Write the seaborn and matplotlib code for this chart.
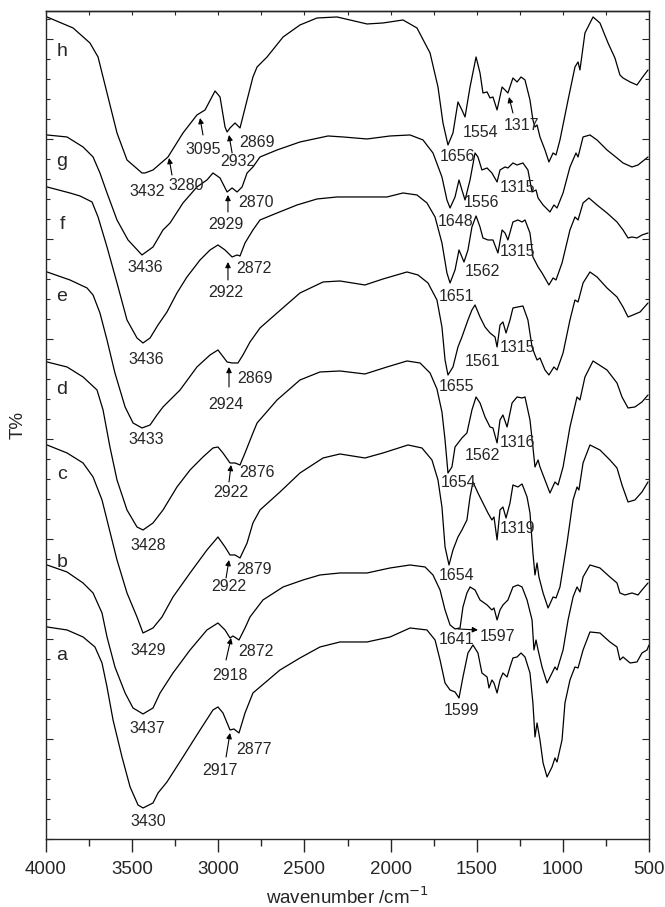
import numpy as np
import pandas as pd
import matplotlib
matplotlib.use('Agg')
import matplotlib.pyplot as plt
import seaborn as sns
from matplotlib.ticker import MultipleLocator

sns.set_style('ticks')
plt.rcParams['font.family'] = ['Liberation Sans', 'DejaVu Sans']

# ---- spectra (wavenumber / cm-1, transmittance in arbitrary offset units) ----
wn_h = [3994,3843,3745,3698,3646,3588,3530,3443,3425,3379,3292,3205,3124,3077,3019,2990,2961,2949,2932,2903,
        2874,2833,2799,2775,2717,2624,2526,2427,2311,2236,2137,2044,1928,1847,1771,1725,1696,1667,1638,1609,
        1586,1568,1539,1504,1481,1464,1440,1423,1406,1382,1353,1336,1319,1290,1266,1243,1220,1191,1174,1162,
        1150,1133,1104,1081,1057,1040,1017,970,930,912,901,872,825,785,738,698,669,651,610,570,541,506]
t_h = [822,811,796,782,746,706,679,666,666,669,682,706,724,729,748,742,712,707,711,716,
       711,739,762,772,782,802,814,821,822,819,815,816,819,811,786,752,716,694,706,737,
       729,722,752,782,766,746,747,741,742,729,752,749,746,761,757,762,759,739,719,712,
       714,702,689,677,686,684,699,739,772,777,769,806,822,816,796,781,764,761,757,754,761,769]

wn_g = [3994,3878,3785,3727,3687,3646,3588,3524,3443,3379,3321,3280,3205,3124,3066,3031,2990,2949,2920,2891,
        2862,2833,2799,2758,2659,2526,2363,2276,2137,2003,1887,1812,1754,1702,1673,1655,1626,1603,1586,1568,
        1539,1510,1493,1470,1440,1412,1382,1365,1336,1319,1290,1266,1232,1203,1179,1156,1144,1115,1075,1052,
        1034,999,959,924,912,883,843,802,744,686,651,599,564,506]
t_g = [704,702,692,682,666,646,619,599,584,592,609,616,636,652,659,666,661,647,651,647,
       652,666,672,682,689,697,703,702,700,703,704,699,686,662,639,631,642,659,649,639,
       659,686,682,669,671,666,657,669,672,671,676,674,676,669,647,649,641,634,627,634,
       631,646,672,686,682,702,704,699,689,681,676,672,674,682]

wn_f = [3994,3861,3803,3756,3733,3698,3646,3588,3530,3472,3437,3396,3350,3298,3240,3182,3106,3048,3002,2961,
        2920,2891,2874,2845,2799,2758,2659,2543,2427,2311,2137,2021,1928,1847,1789,1742,1702,1673,1655,1626,
        1603,1574,1551,1528,1504,1481,1464,1435,1406,1377,1353,1336,1319,1290,1261,1237,1220,1191,1174,1156,
        1144,1121,1081,1057,1040,1005,959,930,912,883,849,802,744,686,651,622,599,570,541,506]
t_f = [652,646,643,639,637,622,592,556,519,501,496,501,514,527,546,562,579,589,594,589,
       582,584,583,596,609,619,626,634,640,642,642,642,646,644,636,622,596,566,556,569,
       589,577,589,612,623,612,601,599,599,586,609,606,599,617,619,617,619,606,582,576,
       572,566,554,561,559,576,609,622,619,636,641,634,626,617,609,601,602,601,604,606]

wn_e = [3994,3861,3762,3727,3687,3646,3600,3541,3495,3443,3396,3356,3321,3222,3124,3048,3002,2949,2920,2886,
        2857,2816,2758,2659,2526,2392,2294,2149,2044,1905,1841,1783,1731,1702,1684,1667,1638,1609,1586,1551,
        1528,1510,1481,1452,1423,1394,1382,1365,1348,1330,1307,1290,1261,1232,1203,1179,1162,1150,1133,1104,
        1081,1052,1034,999,959,930,912,883,843,802,744,686,651,622,593,552,506]
t_e = [567,559,551,544,526,499,466,432,416,411,414,424,432,449,472,484,489,477,476,476,
       484,497,511,526,546,557,558,554,560,567,564,556,539,512,479,464,472,492,502,519,
       529,534,522,512,506,502,492,514,517,506,519,531,532,533,519,492,484,479,481,469,
       464,472,469,486,519,539,537,556,567,562,551,542,532,522,524,527,536]

wn_d = [3994,3878,3785,3704,3669,3629,3588,3530,3472,3437,3379,3321,3240,3164,3089,3031,3002,2973,2932,2903,
        2874,2845,2799,2775,2659,2526,2410,2294,2149,2021,1905,1829,1771,1731,1702,1684,1667,1644,1626,1586,
        1557,1528,1504,1481,1452,1423,1406,1382,1365,1348,1324,1295,1266,1237,1220,1191,1174,1162,1144,1133,
        1104,1075,1046,1028,999,959,918,901,872,825,744,686,657,622,582,541,506]
t_d = [477,472,462,449,429,392,359,329,312,309,316,329,352,369,382,391,392,386,376,376,
       374,386,406,416,439,459,467,468,465,472,478,476,466,450,427,399,366,372,392,401,
       406,429,442,436,422,412,411,396,419,424,412,436,442,441,442,419,392,372,379,372,
       359,346,357,354,372,412,442,439,462,478,469,456,442,431,432,437,444]

wn_c = [3994,3878,3785,3727,3675,3646,3588,3530,3472,3437,3379,3327,3263,3164,3066,3002,2961,2932,2903,2874,
        2833,2799,2758,2642,2526,2392,2294,2149,2044,1899,1818,1760,1725,1702,1684,1661,1638,1609,1586,1557,
        1539,1522,1493,1464,1435,1412,1400,1382,1365,1348,1330,1307,1290,1261,1237,1208,1191,1174,1162,1150,
        1139,1115,1086,1057,1040,1017,976,941,918,907,883,843,785,727,686,657,622,582,541,506]
t_c = [394,386,376,362,339,319,279,246,222,206,211,222,242,266,289,302,292,284,284,281,
       296,316,329,347,366,381,385,381,386,394,391,379,359,332,292,274,289,302,309,319,
       342,357,346,336,326,319,322,299,329,332,321,336,354,352,355,342,326,286,264,276,
       262,246,231,242,241,252,296,339,352,349,376,394,389,379,371,354,337,339,347,357]

wn_b = [3994,3878,3785,3727,3675,3646,3600,3541,3495,3437,3379,3338,3263,3164,3066,3002,2961,2932,2915,2880,
        2845,2816,2741,2624,2508,2410,2294,2137,2003,1887,1800,1754,1713,1684,1655,1626,1597,1580,1557,1539,
        1510,1481,1440,1412,1400,1382,1365,1348,1319,1290,1261,1237,1208,1179,1168,1156,1144,1121,1092,1063,
        1046,1034,999,970,941,918,901,883,843,785,727,686,669,640,599,564,541,506]
t_b = [274,267,256,246,226,202,172,146,131,125,131,146,166,189,209,216,209,201,203,199,
       211,222,239,252,259,264,266,266,271,274,272,264,249,229,214,210,211,232,246,252,
       249,239,234,229,231,219,229,234,239,252,254,252,239,219,189,199,189,172,156,166,
       172,169,189,219,242,252,247,262,274,271,262,256,246,244,246,244,249,256]

wn_a = [3994,3878,3785,3716,3675,3646,3611,3559,3512,3466,3437,3379,3350,3298,3205,3106,3031,3002,2973,2932,
        2909,2880,2845,2799,2758,2642,2526,2410,2294,2137,2003,1887,1789,1742,1713,1684,1655,1626,1603,1580,
        1551,1522,1493,1470,1440,1429,1412,1400,1382,1365,1348,1324,1307,1290,1266,1243,1220,1191,1174,1162,
        1150,1133,1115,1092,1063,1046,1034,1005,988,959,930,912,883,843,785,727,686,669,651,610,
        570,541,512,500]
t_a = [212,209,202,192,176,152,119,82,52,34,31,36,46,57,82,109,129,132,126,109,
       110,106,126,146,152,169,181,192,197,197,202,211,209,199,179,156,149,147,141,162,
       186,194,186,166,162,151,159,156,146,159,166,162,172,181,182,186,182,166,136,102,
       116,99,76,62,72,81,77,99,136,159,172,171,189,207,206,197,192,179,182,176,
       177,186,189,194]

curve_names = ['h', 'g', 'f', 'e', 'd', 'c', 'b', 'a']
curves = {'h': (wn_h, t_h), 'g': (wn_g, t_g), 'f': (wn_f, t_f), 'e': (wn_e, t_e),
          'd': (wn_d, t_d), 'c': (wn_c, t_c), 'b': (wn_b, t_b), 'a': (wn_a, t_a)}

# curve letter labels (wavenumber, T)
letter_wn = 3907
letter_t = [787, 677, 614, 542, 449, 364, 276, 183]

# peak labels: text, wavenumber, T
peak_labels = [
    ('3432', 3414, 647), ('3280', 3187, 653), ('3095', 3089, 689), ('2932', 2886, 677), ('2869', 2775, 696),
    ('1656', 1609, 682), ('1554', 1475, 706), ('1317', 1243, 713),
    ('3436', 3425, 571), ('2929', 2955, 614), ('2870', 2781, 636), ('1648', 1620, 617), ('1556', 1475, 636),
    ('1315', 1266, 651),
    ('3436', 3420, 479), ('2922', 2955, 546), ('2872', 2793, 570), ('1651', 1615, 542), ('1562', 1469, 567),
    ('1315', 1266, 587),
    ('3433', 3420, 399), ('2924', 2955, 434), ('2869', 2787, 460), ('1655', 1620, 452), ('1561', 1469, 477),
    ('1315', 1266, 491),
    ('3428', 3408, 293), ('2922', 2926, 346), ('2876', 2775, 366), ('1654', 1603, 356), ('1562', 1469, 383),
    ('1316', 1261, 396),
    ('3429', 3408, 188), ('2922', 2938, 252), ('2879', 2793, 269), ('1654', 1620, 263), ('1319', 1266, 310),
    ('3437', 3414, 110), ('2918', 2932, 163), ('2872', 2781, 187), ('1641', 1615, 199), ('1597', 1382, 202),
    ('3430', 3408, 17), ('2917', 2990, 68), ('2877', 2793, 89), ('1599', 1586, 128),
]

# arrows: tail (wn, T) -> tip (wn, T)
arrows = [
    (3269, 664, 3286, 681), (3089, 704, 3106, 721), (2920, 686, 2938, 704), (1290, 726, 1313, 742),
    (2944, 627, 2944, 644),
    (2944, 559, 2944, 577),
    (2938, 452, 2938, 472),
    (2938, 357, 2926, 374),
    (2955, 261, 2938, 279),
    (2955, 179, 2926, 201), (1609, 210, 1493, 209),
    (2955, 82, 2932, 106),
]

fig = plt.figure(figsize=(6.65, 9.07), dpi=100)
ax = fig.add_axes([0.0692, 0.0750, 0.9068, 0.9129])

for name in curve_names:
    w, t = curves[name]
    df = pd.DataFrame({'wn': w, 'T': t})
    sns.lineplot(data=df, x='wn', y='T', sort=False, estimator=None,
                 color='black', lw=0.9, ax=ax)

for name, ty in zip(curve_names, letter_t):
    ax.text(letter_wn, ty, name, fontsize=14, ha='center', va='center')

for txt, x, y in peak_labels:
    ax.text(x, y, txt, fontsize=11.5, ha='center', va='center')

for x0, y0, x1, y1 in arrows:
    ax.annotate('', xy=(x1, y1), xytext=(x0, y0),
                arrowprops=dict(arrowstyle='-|>', color='black', lw=0.8,
                                mutation_scale=8, shrinkA=0, shrinkB=0))

ax.set_xlim(4000, 500)
ax.set_ylim(0, 828)
ax.xaxis.set_major_locator(MultipleLocator(500))
ax.xaxis.set_minor_locator(MultipleLocator(250))
ax.yaxis.set_major_locator(MultipleLocator(100))
ax.yaxis.set_minor_locator(MultipleLocator(20))
ax.tick_params(axis='x', which='major', direction='out', length=9, width=1, labelsize=13.5, pad=7)
ax.tick_params(axis='x', which='minor', direction='out', length=5, width=1)
ax.tick_params(axis='y', which='both', direction='in', left=True, right=True,
               labelleft=False, width=0.8)
ax.tick_params(axis='y', which='major', length=5)
ax.tick_params(axis='y', which='minor', length=3)

sec = ax.secondary_xaxis('top')
sec.xaxis.set_major_locator(MultipleLocator(500))
sec.xaxis.set_minor_locator(MultipleLocator(250))
sec.tick_params(axis='x', which='both', direction='in', length=3, labeltop=False, width=0.8)

for sp in ax.spines.values():
    sp.set_linewidth(1.0)
sec.spines['top'].set_linewidth(1.0)

ax.set_xlabel('wavenumber /cm$^{-1}$', fontsize=13.5, labelpad=6)
ax.set_ylabel('T%', fontsize=13.5, labelpad=14)

fig.savefig('out.png', dpi=100)
